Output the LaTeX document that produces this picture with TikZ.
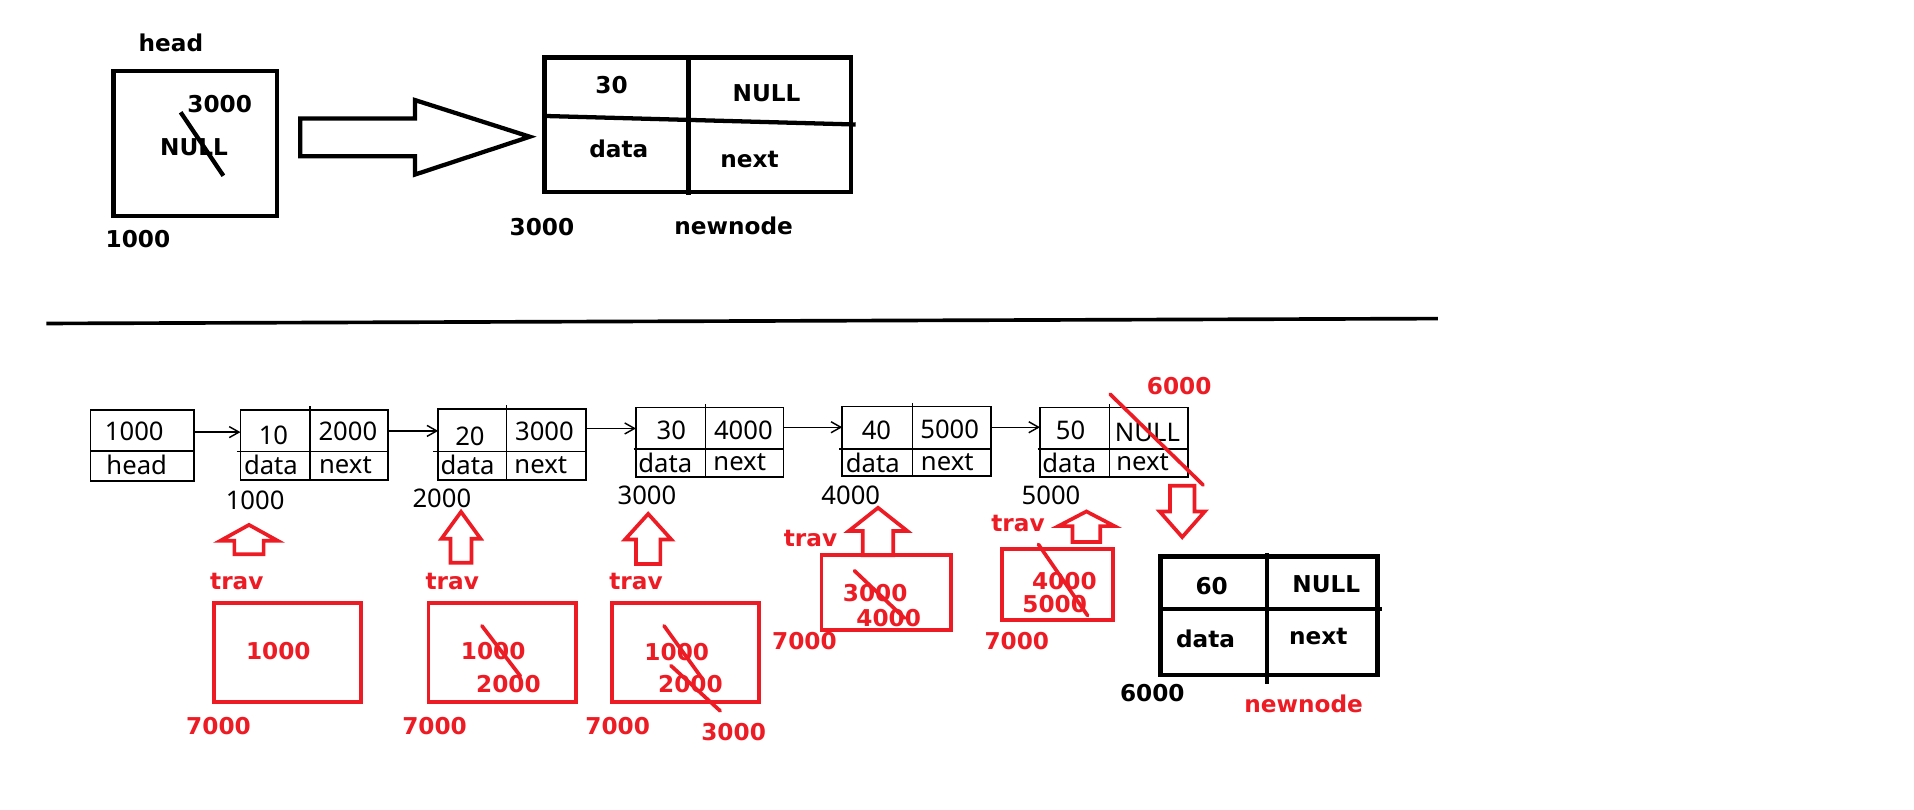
\documentclass[tikz,border=0pt]{standalone}
\usepackage{fontspec}
\setmainfont{Noto Sans}
\newfontfamily\bfont{DejaVu Sans}
\usetikzlibrary{arrows.meta,calc}
\definecolor{pred}{RGB}{237,28,36}
\newcommand\redup[6]{\draw[redarrow] (#1,#2) -- (#1+#4,#3) -- (#1+#5,#3) -- (#1+#5,#6) -- (#1-#5,#6) -- (#1-#5,#3) -- (#1-#4,#3) -- cycle;}
\begin{document}
\begin{tikzpicture}[x=1pt,y=-1pt,
  bt/.style={font=\bfont\bfseries\fontsize{19}{19}\selectfont, inner sep=0pt},
  rt/.style={bt, text=pred},
  lt/.style={font=\fontsize{21}{21}\selectfont, inner sep=0pt},
  thickbox/.style={draw, line width=3.5pt, inner sep=0pt, outer sep=0pt},
  listbox/.style={draw, line width=1.3pt, inner sep=0pt, outer sep=0pt},
  redbox/.style={draw=pred, line width=3.2pt, inner sep=0pt, outer sep=0pt},
  thickline/.style={line width=3.5pt},
  thinline/.style={line width=1.3pt},
  redslash/.style={draw=pred, line width=3pt, line cap=round},
  redarrow/.style={draw=pred, line width=3pt, line join=miter},
  larrow/.style={-{Straight Barb[length=8pt,width=9pt]}, line width=1.2pt}]
\fill[white] (0,0) rectangle (1568,663);
\useasboundingbox (0,0) rectangle (1568,663);
% ---------- top part ----------
\node[bt] (thead) at (140,35) {head};
\node[thickbox, minimum width=134pt, minimum height=119pt] (hb0) at (160,117.5) {};
\node[bt] (t3000a) at (180,85) {3000};
\node[bt] (tnulla) at (159,121) {NULL};
\draw[thickline] (148,92) -- (183,144);
\node[bt] (t1000a) at (113,196) {1000};
\draw[thickline, line join=miter] (246,97) -- (340,97) -- (340,82) -- (434,112) -- (340,143) -- (340,128) -- (246,128) -- cycle;
\node[thickbox, minimum width=251pt, minimum height=110pt] (nb0) at (571.5,102) {};
\draw[thickline] (564,47) -- (564,160);
\draw[thickline] (446,95) -- (701,102);
\node[bt] (t30a) at (501,70) {30};
\node[bt] (tnullb) at (628,76) {NULL};
\node[bt] (tdataa) at (507,122) {data};
\node[bt] (tnexta) at (614,131) {next};
\node[bt] (t3000b) at (444,186) {3000};
\node[bt] (tnewa) at (601,185) {newnode};
% ---------- rule ----------
\draw[line width=3pt] (38,265) -- (1178,261);
% ---------- list row ----------
\node[listbox, minimum width=85pt, minimum height=58pt] (hb) at (116.5,365) {};
\draw[thinline] (74,369.4) -- (159,369.4);
\node[lt] (hbt1) at (110,353) {1000};
\node[lt] (hbt2) at (112,381) {head};
% node 1
\node[listbox, minimum width=121pt, minimum height=57pt] (n1) at (257.5,364.5) {};
\draw[thinline] (254,333) -- (254,393);
\draw[thinline] (194,370) -- (318,370);
\node[lt] (n1a) at (224,357) {10};
\node[lt] (n1b) at (285,353) {2000};
\node[lt] (n1c) at (222,381) {data};
\node[lt] (n1d) at (283,381) {next};
\node[lt] (n1e) at (209,410) {1000};
% node 2
\node[listbox, minimum width=121pt, minimum height=58pt] (n2) at (419.5,364) {};
\draw[thinline] (415,332) -- (415,393);
\draw[thinline] (355,370) -- (480,370);
\node[lt] (n2a) at (385,357.5) {20};
\node[lt] (n2b) at (446,353) {3000};
\node[lt] (n2c) at (383,381) {data};
\node[lt] (n2d) at (443,381) {next};
\node[lt] (n2e) at (362,408) {2000};
% node 3
\node[listbox, minimum width=121pt, minimum height=57pt] (n3) at (581.5,362.5) {};
\draw[thinline] (578,331) -- (578,391);
\draw[thinline] (519,367.6) -- (642,367.6);
\node[lt] (n3a) at (550,352.5) {30};
\node[lt] (n3b) at (609,352.5) {4000};
\node[lt] (n3c) at (545,379) {data};
\node[lt] (n3d) at (606,379) {next};
\node[lt] (n3e) at (530,406) {3000};
% node 4
\node[listbox, minimum width=122pt, minimum height=57pt] (n4) at (751,361.5) {};
\draw[thinline] (747.5,330) -- (747.5,390);
\draw[thinline] (687.5,367.6) -- (812,367.6);
\node[lt] (n4a) at (718,352.5) {40};
\node[lt] (n4b) at (778,352) {5000};
\node[lt] (n4c) at (715,379) {data};
\node[lt] (n4d) at (776,379) {next};
\node[lt] (n4e) at (697,406) {4000};
% node 5
\node[listbox, minimum width=121pt, minimum height=57pt] (n5) at (912.5,362.5) {};
\draw[thinline] (909,331) -- (909,391);
\draw[thinline] (850,368) -- (973,368);
\node[lt] (n5a) at (877,352.5) {50};
\node[lt] (n5b) at (940,354) {NULL};
\node[lt] (n5c) at (876,379) {data};
\node[lt] (n5d) at (936,379) {next};
\node[lt] (n5e) at (861,406) {5000};
% connectors
\draw[larrow] ([yshift=-18pt]hb.north east) -- ([yshift=-18pt]hb.north east -| n1.west);
\draw[larrow] ([yshift=-17pt]n1.north east) -- ([yshift=-17pt]n1.north east -| n2.west);
\draw[larrow] ([yshift=-16pt]n2.north east) -- ([yshift=-16pt]n2.north east -| n3.west);
\draw[larrow] ([yshift=-16pt]n3.north east) -- ([yshift=-16pt]n3.north east -| n4.west);
\draw[larrow] ([yshift=-17pt]n4.north east) -- ([yshift=-17pt]n4.north east -| n5.west);
% red strike on last node
\draw[redslash] (909.5,323) -- (985.6,397.3);
\node[rt] (r6000a) at (966,316) {6000};
\redup{968.5}{440}{419}{18.5}{10}{398}
% ---------- red traversal ----------
\redup{204}{430}{443}{23.5}{12}{454}
\node[rt] (trav1) at (194,476) {trav};
\node[redbox, minimum width=121pt, minimum height=81pt] (b1) at (235.5,534.5) {};
\node[rt] (b1a) at (228,533) {1000};
\node[rt] (b1s) at (179,595) {7000};
\redup{377.7}{419.3}{441.3}{16}{8.6}{461}
\node[rt] (trav2) at (370.5,476) {trav};
\node[redbox, minimum width=121pt, minimum height=81pt] (b2) at (411.5,534.5) {};
\node[rt] (b2a) at (404,533) {1000};
\node[rt] (b2b) at (416.5,560) {2000};
\draw[redslash] (394.8,512.7) -- (426.3,553.9);
\node[rt] (b2s) at (356,595) {7000};
\redup{531}{421}{442}{19}{10}{462}
\node[rt] (trav3) at (521,476) {trav};
\node[redbox, minimum width=121pt, minimum height=81pt] (b3) at (561.5,534.5) {};
\node[rt] (b3a) at (554.4,533.8) {1000};
\node[rt] (b3b) at (565.6,560) {2000};
\draw[redslash] (544,512.7) -- (576,557);
\draw[redslash] (549.6,545.3) -- (590,582.4);
\node[rt] (b3c) at (601,600) {3000};
\node[rt] (b3s) at (506,595) {7000};
\redup{719.3}{416}{435}{24}{12.5}{455}
\node[rt] (trav4) at (664,441) {trav};
\node[redbox, minimum width=106pt, minimum height=61pt] (b4) at (726,485.5) {};
\node[rt] (b4a) at (717,486) {3000};
\node[rt] (b4b) at (728,506) {4000};
\draw[redslash] (700,467.6) -- (741,506.4);
\node[rt] (b4s) at (659,525) {7000};
\redup{890}{419}{431}{23}{11.4}{444}
\node[rt] (trav5) at (834,429) {trav};
\node[redbox, minimum width=91pt, minimum height=58.5pt] (b5) at (866.5,478.75) {};
\node[rt] (b5a) at (872,476) {4000};
\node[rt] (b5b) at (864,495) {5000};
\draw[redslash] (850.7,446) -- (891,504.3);
\node[rt] (b5s) at (833,525) {7000};
% ---------- new node 6000 ----------
\node[thickbox, minimum width=177.8pt, minimum height=97.4pt] (nb6) at (1039.6,504.5) {};
\draw[thickline] (1038,453) -- (1038,560);
\draw[thickline] (949,499) -- (1132.5,499);
\node[bt] (n6a) at (992.6,480) {60};
\node[bt] (n6b) at (1086.5,479) {NULL};
\node[bt] (n6c) at (987.6,523) {data};
\node[bt] (n6d) at (1080,521.5) {next};
\node[bt] (n6e) at (944,568) {6000};
\node[rt] (n6f) at (1068,577) {newnode};
\end{tikzpicture}
\end{document}
